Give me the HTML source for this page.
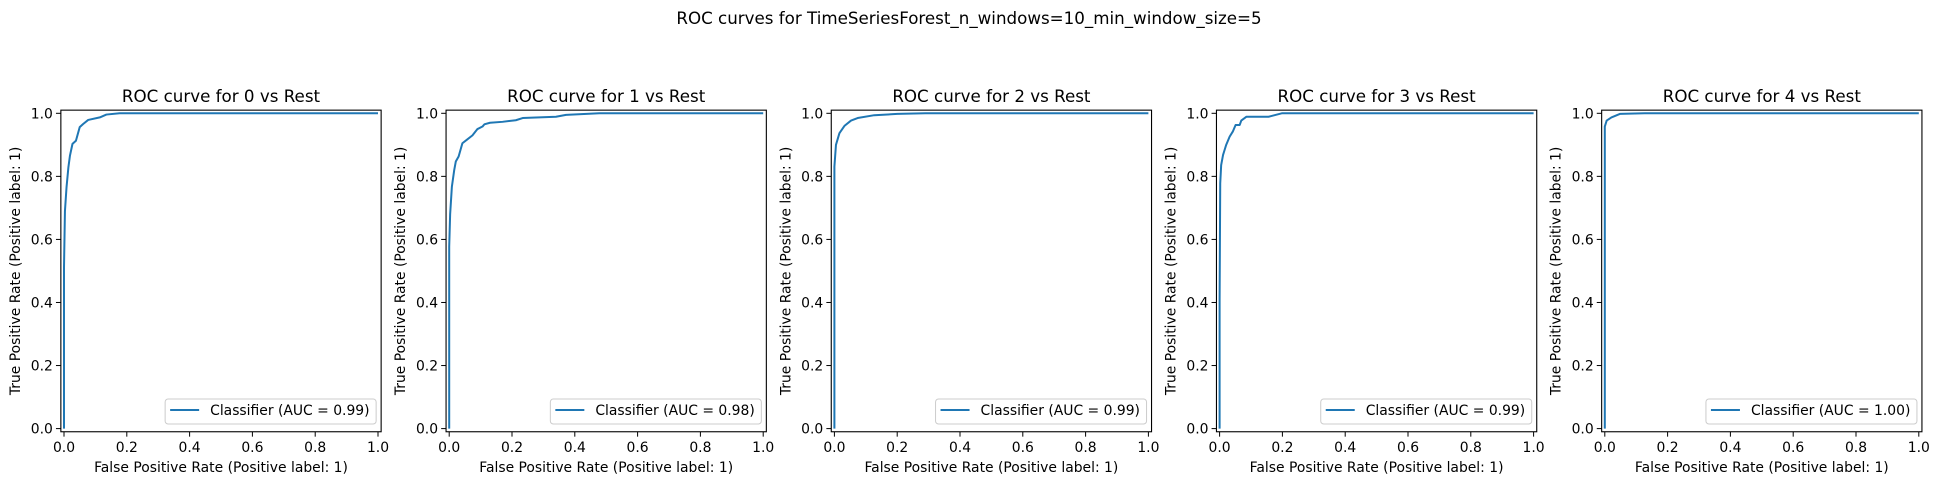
<!DOCTYPE html>
<html><head><meta charset="utf-8"><style>
body{margin:0;background:#fff;}
svg{display:block;font-family:"DejaVu Sans","Liberation Sans",sans-serif;}
</style></head><body>
<svg id="fig" width="1939" height="484" viewBox="0 0 1939 484">
<text x="969" y="24" font-size="16.7" text-anchor="middle">ROC curves for TimeSeriesForest_n_windows=10_min_window_size=5</text>
</svg>
<script>
const classNames = ["0","1","2","3","4"];
const aucLabels = ["0.99","0.98","0.99","0.99","1.00"];
const fpr0 = [0,0,0.003,0.008,0.014,0.019,0.027,0.038,0.05,0.061,0.077,0.114,0.135,0.177,1];
const tpr0 = [0,0.512,0.69,0.765,0.829,0.866,0.903,0.913,0.956,0.966,0.979,0.987,0.996,1,1];
const fpr1 = [0,0,0.003,0.0085,0.016,0.021,0.03,0.042,0.055,0.074,0.09,0.106,0.112,0.13,0.17,0.212,0.234,0.34,0.372,0.478,1];
const tpr1 = [0,0.577,0.68,0.767,0.82,0.847,0.863,0.905,0.915,0.93,0.95,0.958,0.965,0.97,0.973,0.978,0.985,0.989,0.995,1,1];
const fpr2 = [0,0,0.005,0.016,0.032,0.053,0.074,0.127,0.2,0.29,1];
const tpr2 = [0,0.831,0.9,0.937,0.96,0.977,0.985,0.994,0.998,1,1];
const fpr3 = [0,0,0.002,0.005,0.011,0.016,0.021,0.032,0.042,0.051,0.064,0.069,0.085,0.156,0.198,1];
const tpr3 = [0,0.408,0.778,0.836,0.868,0.884,0.9,0.926,0.942,0.963,0.963,0.977,0.989,0.989,1,1];
const fpr4 = [0,0,0.006,0.021,0.048,0.127,1];
const tpr4 = [0,0.958,0.977,0.987,0.998,1,1];
const tickValues = [0,0.2,0.4,0.6,0.8,1.0];
const tickLabels = ["0.0","0.2","0.4","0.6","0.8","1.0"];

const fprs=[fpr0,fpr1,fpr2,fpr3,fpr4], tprs=[tpr0,tpr1,tpr2,tpr3,tpr4];
const svg=document.getElementById('fig');
const NS='http://www.w3.org/2000/svg';
function mk(tag,attrs,parent){const e=document.createElementNS(NS,tag);for(const k in attrs)e.setAttribute(k,attrs[k]);(parent||svg).appendChild(e);return e;}
const S=314, SY=315.3, Y1=113.3;
classNames.forEach((c,i)=>{
  const x0=64+385.2*i;
  const xs=v=>x0+v*S, ys=v=>Y1+(1-v)*SY;
  const L=xs(-0.01),R=xs(1.01),T=ys(1.01),B=ys(-0.01);
  const g=mk('g',{});
  
  
  const t=mk('text',{x:(L+R)/2,y:102,'font-size':16.7,'text-anchor':'middle'},g);
  t.textContent='ROC curve for '+c+' vs Rest';
  
  
  tickValues.forEach((v,k)=>{
    const tx=mk('line',{x1:xs(v),x2:xs(v),y1:B,y2:B+4.9,stroke:'#000','stroke-width':1},g);
    
    
    const xl=mk('text',{x:xs(v),y:452,'font-size':13.9,'text-anchor':'middle'},g);
    xl.textContent=tickLabels[k];
    
    
    const ty=mk('line',{x1:L-4.9,x2:L,y1:ys(v),y2:ys(v),stroke:'#000','stroke-width':1},g);
    
    
    const yl=mk('text',{x:L-8,y:ys(v)+5,'font-size':13.9,'text-anchor':'end'},g);
    yl.textContent=tickLabels[k];
    
    
  });
  const xt=mk('text',{x:(L+R)/2,y:472,'font-size':13.9,'text-anchor':'middle'},g);
  xt.textContent='False Positive Rate (Positive label: 1)';
  
  
  const yt=mk('text',{x:0,y:0,'font-size':13.9,'text-anchor':'middle',transform:`translate(${L-41},${(T+B)/2}) rotate(-90)`},g);
  yt.textContent='True Positive Rate (Positive label: 1)';
  
  
  const pts=fprs[i].map((f,k)=>xs(f).toFixed(2)+','+ys(tprs[i][k]).toFixed(2)).join(' ');
  const pl=mk('polyline',{points:pts,fill:'none',stroke:'#1f77b4','stroke-width':2,'stroke-linejoin':'round'},g);
  
  
  const fr=mk('rect',{x:L,y:T,width:R-L,height:B-T,fill:'none',stroke:'#000','stroke-width':1.1},g);
  
  
  const lg=mk('g',{},g);
  
  
  const lx=R-5-211;
  mk('rect',{x:lx,y:399,width:211,height:25,rx:3,fill:'#fff','fill-opacity':0.8,stroke:'#ccc','stroke-width':1},lg);
  const ll=mk('line',{x1:lx+5,x2:lx+34,y1:410,y2:410,stroke:'#1f77b4','stroke-width':2},lg);
  
  
  const lt=mk('text',{x:lx+45,y:415,'font-size':13.9},lg);
  lt.textContent='Classifier (AUC = '+aucLabels[i]+')';
  
  
});
</script>
</body></html>
